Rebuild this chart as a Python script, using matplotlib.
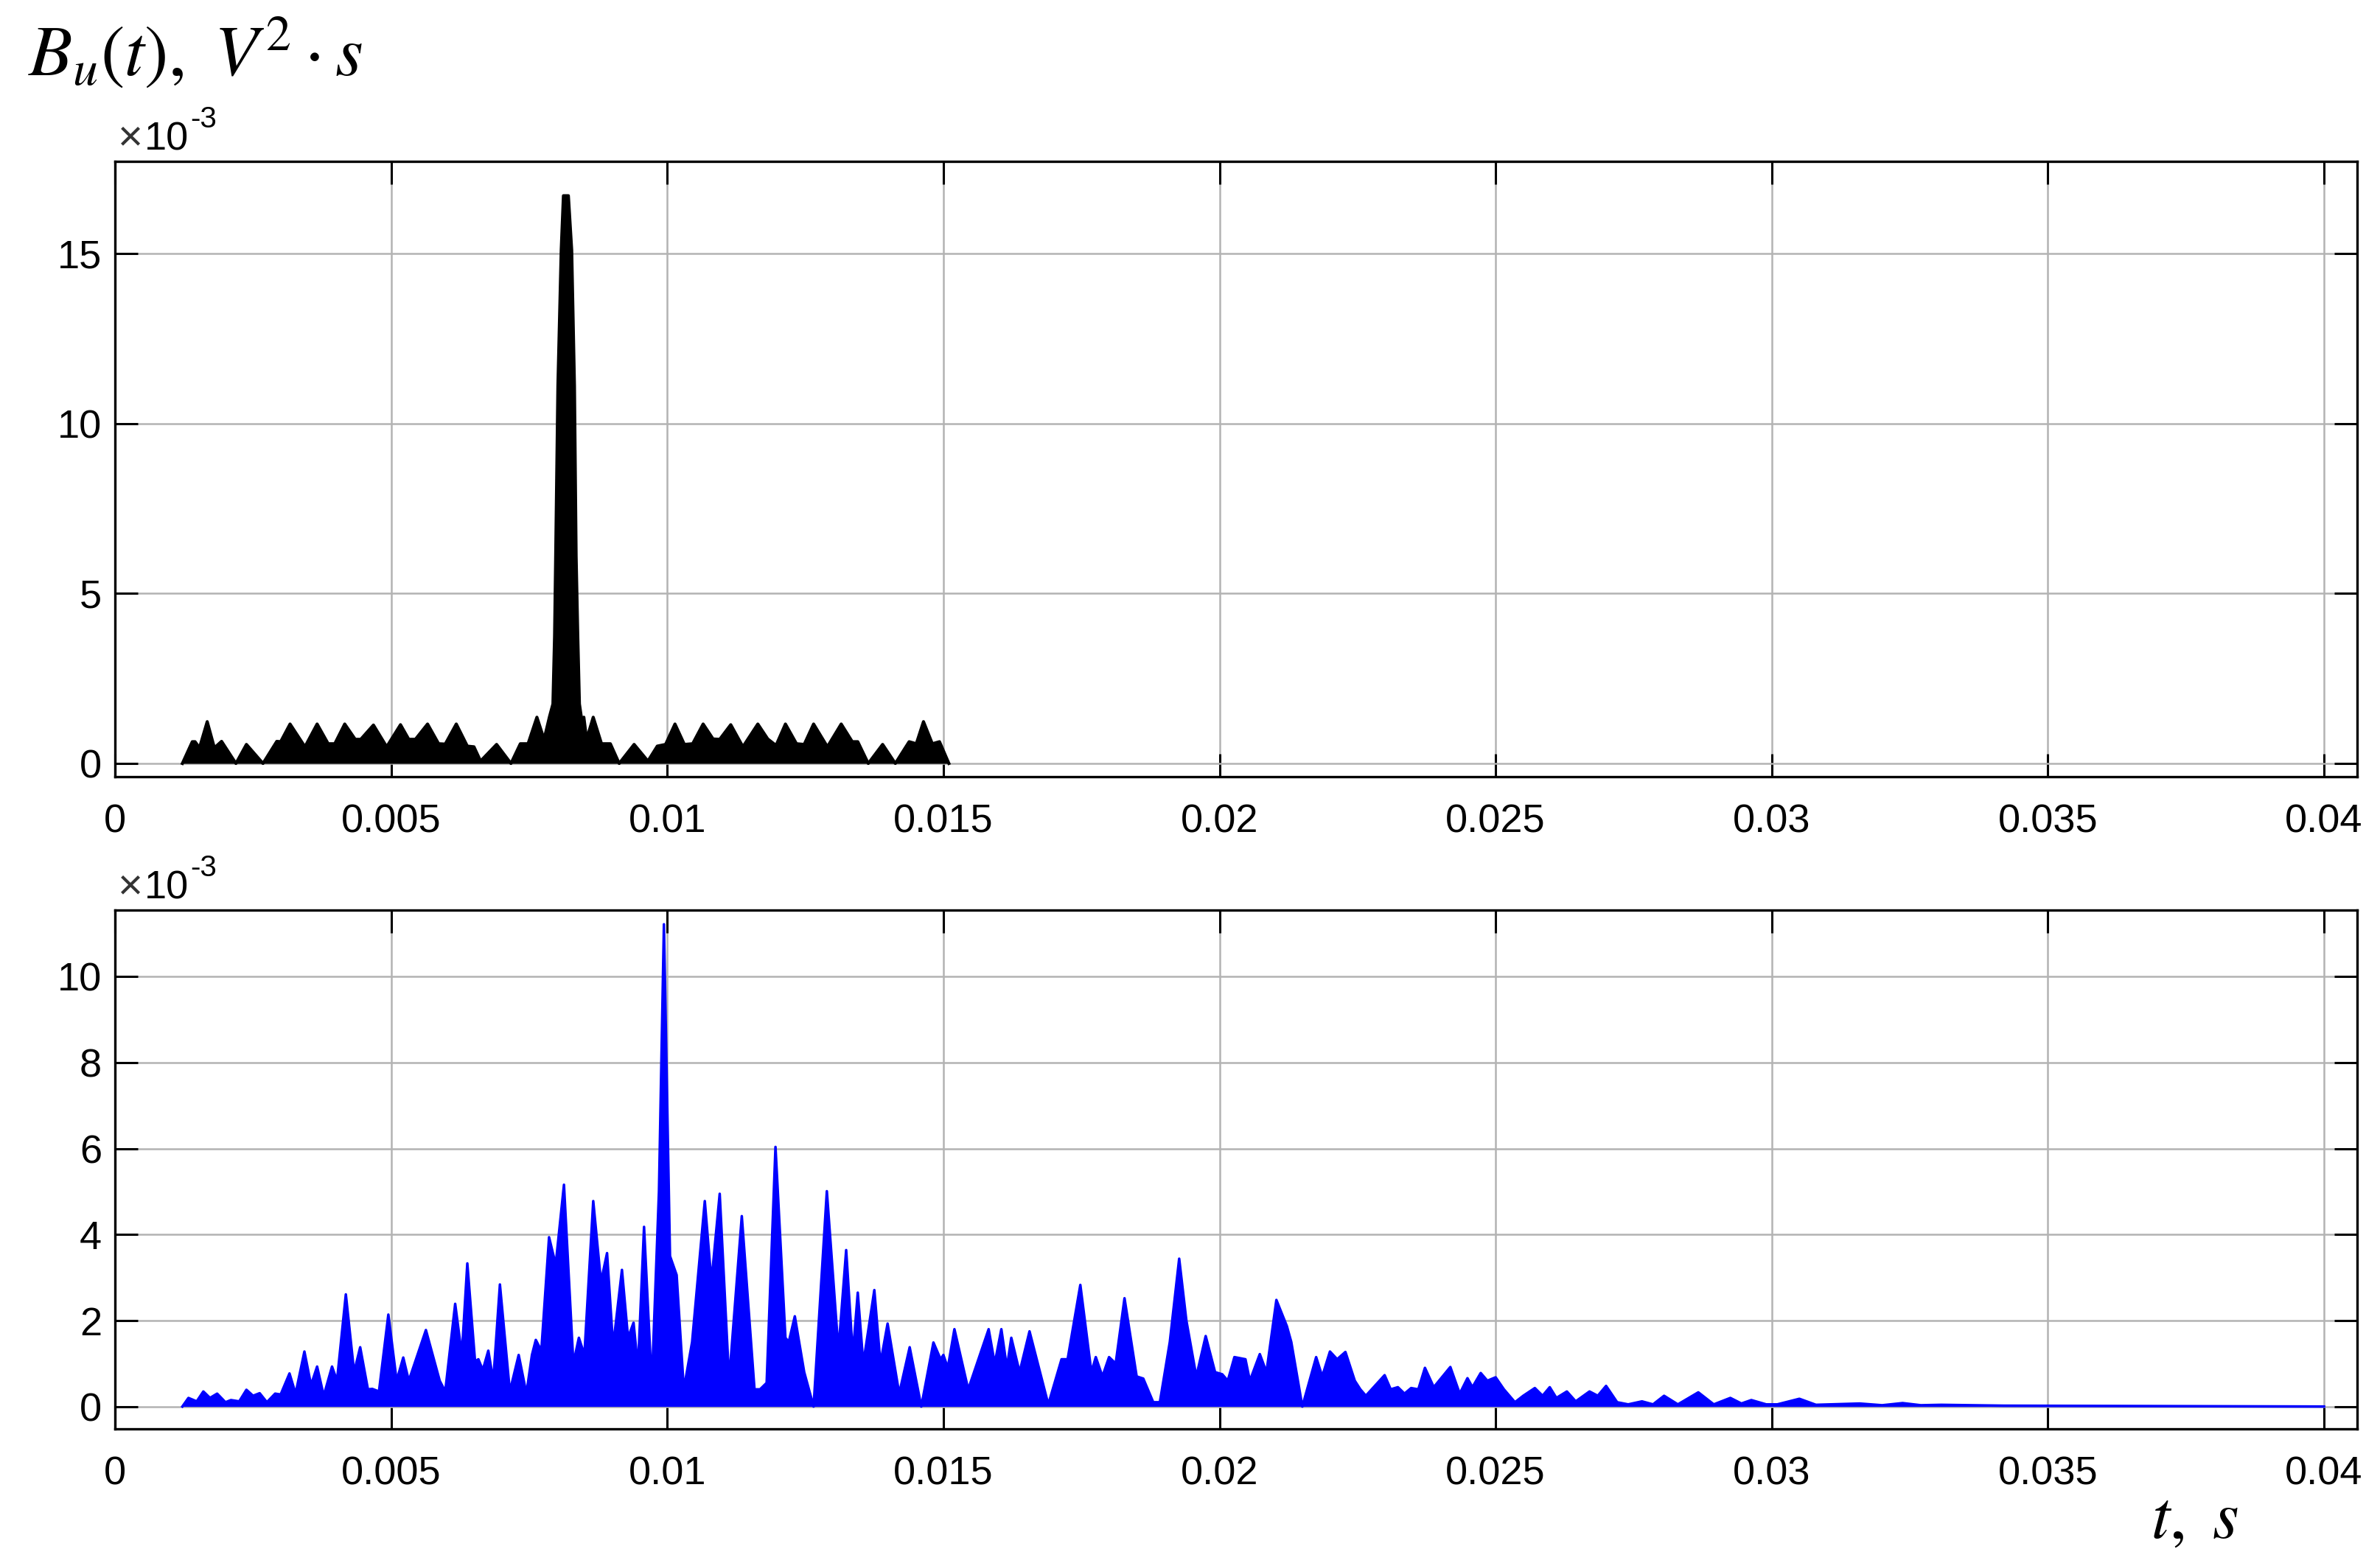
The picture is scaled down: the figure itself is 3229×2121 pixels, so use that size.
import matplotlib.pyplot as plt

# Top trace (black): envelope, t in ms, value in 1e-3 V^2*s
top_t = [1.22, 1.40, 1.45, 1.53, 1.67, 1.80, 1.93, 2.19, 2.38, 2.68, 2.93, 3.00,
         3.17, 3.44, 3.66, 3.86, 3.98, 4.16, 4.35, 4.45, 4.68, 4.92, 5.17, 5.32,
         5.44, 5.66, 5.86, 5.98, 6.18, 6.38, 6.50, 6.62, 6.91, 7.17, 7.34, 7.48,
         7.64, 7.77, 7.87, 7.93, 7.96, 7.98, 8.02, 8.08, 8.12, 8.21, 8.27, 8.32,
         8.35, 8.38, 8.41, 8.45, 8.49, 8.54, 8.66, 8.81, 8.97, 9.13, 9.40, 9.65,
         9.82, 9.97, 10.14, 10.31, 10.46, 10.65, 10.83, 10.95, 11.15, 11.37, 11.64, 11.82,
         11.97, 12.14, 12.34, 12.48, 12.65, 12.90, 13.15, 13.35, 13.45, 13.64, 13.90, 14.13,
         14.38, 14.51, 14.64, 14.80, 14.93, 15.10]
top_v = [0.0, 0.64, 0.64, 0.46, 1.23, 0.46, 0.65, 0.0, 0.56, 0.0, 0.65, 0.64,
         1.16, 0.49, 1.16, 0.58, 0.58, 1.16, 0.71, 0.71, 1.13, 0.49, 1.14, 0.71,
         0.71, 1.16, 0.58, 0.57, 1.16, 0.51, 0.49, 0.07, 0.56, 0.0, 0.58, 0.58,
         1.36, 0.71, 1.39, 1.75, 3.75, 6.1, 11.1, 15.1, 16.7, 16.7, 15.1, 11.1,
         6.1, 3.75, 1.75, 1.30, 1.36, 0.71, 1.36, 0.58, 0.58, 0.0, 0.56, 0.07,
         0.51, 0.56, 1.16, 0.56, 0.58, 1.16, 0.72, 0.71, 1.14, 0.49, 1.16, 0.72,
         0.53, 1.16, 0.58, 0.56, 1.16, 0.49, 1.16, 0.64, 0.64, 0.0, 0.56, 0.0,
         0.64, 0.58, 1.23, 0.58, 0.64, 0.0]

# Bottom trace (blue)
bot_t = [1.22, 1.33, 1.48, 1.60, 1.72, 1.85, 2.00, 2.10, 2.25, 2.38, 2.50, 2.62,
         2.75, 2.90, 3.00, 3.16, 3.27, 3.43, 3.55, 3.66, 3.78, 3.93, 4.02, 4.18,
         4.33, 4.44, 4.58, 4.66, 4.78, 4.95, 5.10, 5.22, 5.32, 5.63, 5.88, 5.98,
         6.16, 6.28, 6.38, 6.52, 6.58, 6.66, 6.76, 6.85, 6.97, 7.15, 7.31, 7.45,
         7.55, 7.62, 7.72, 7.86, 7.98, 8.13, 8.30, 8.40, 8.50, 8.66, 8.80, 8.91,
         9.02, 9.18, 9.29, 9.39, 9.47, 9.58, 9.72, 9.85, 9.94, 10.05, 10.17, 10.30,
         10.45, 10.68, 10.80, 10.95, 11.12, 11.35, 11.58, 11.68, 11.80, 11.96, 12.14, 12.20,
         12.31, 12.48, 12.65, 12.89, 13.10, 13.24, 13.36, 13.45, 13.55, 13.75, 13.86, 13.99,
         14.20, 14.39, 14.60, 14.82, 14.95, 15.00, 15.08, 15.20, 15.45, 15.82, 15.93, 16.05,
         16.15, 16.23, 16.38, 16.56, 16.90, 17.14, 17.25, 17.48, 17.68, 17.76, 17.88, 18.00,
         18.12, 18.28, 18.50, 18.62, 18.80, 18.92, 19.10, 19.27, 19.40, 19.58, 19.75, 19.92,
         20.05, 20.15, 20.27, 20.47, 20.55, 20.73, 20.85, 21.03, 21.22, 21.30, 21.50, 21.75,
         21.86, 22.00, 22.13, 22.28, 22.45, 22.55, 22.65, 22.99, 23.10, 23.23, 23.35, 23.47,
         23.60, 23.72, 23.88, 24.18, 24.35, 24.49, 24.58, 24.73, 24.85, 25.00, 25.15, 25.35,
         25.50, 25.71, 25.85, 25.98, 26.10, 26.29, 26.45, 26.70, 26.85, 27.00, 27.20, 27.40,
         27.65, 27.85, 28.05, 28.30, 28.67, 28.95, 29.25, 29.45, 29.63, 29.90, 30.10, 30.50,
         30.80, 31.59, 32.00, 32.37, 32.70, 33.07, 34.20, 40.00]
bot_v = [0.0, 0.20, 0.12, 0.35, 0.20, 0.30, 0.10, 0.15, 0.12, 0.39, 0.25, 0.31,
         0.10, 0.30, 0.28, 0.77, 0.30, 1.28, 0.50, 0.93, 0.25, 0.93, 0.60, 2.61,
         0.80, 1.38, 0.40, 0.41, 0.35, 2.14, 0.60, 1.14, 0.60, 1.78, 0.60, 0.35,
         2.39, 1.20, 3.33, 1.05, 1.10, 0.85, 1.30, 0.60, 2.84, 0.35, 1.20, 0.30,
         1.20, 1.55, 1.30, 3.94, 3.30, 5.16, 1.00, 1.60, 1.20, 4.78, 2.90, 3.57,
         1.40, 3.18, 1.60, 1.95, 0.90, 4.18, 0.50, 5.00, 11.22, 3.50, 3.06, 0.40,
         1.50, 4.78, 2.90, 4.95, 0.60, 4.43, 0.40, 0.40, 0.55, 6.04, 1.60, 1.50,
         2.10, 0.80, 0.00, 5.01, 1.30, 3.64, 1.20, 2.65, 1.00, 2.71, 1.00, 1.93,
         0.30, 1.38, 0.00, 1.49, 1.10, 1.20, 0.90, 1.80, 0.40, 1.80, 1.00, 1.80,
         0.90, 1.60, 0.80, 1.75, 0.05, 1.10, 1.10, 2.83, 0.80, 1.15, 0.70, 1.15,
         1.00, 2.52, 0.70, 0.65, 0.10, 0.10, 1.50, 3.44, 2.00, 0.70, 1.64, 0.80,
         0.75, 0.60, 1.15, 1.10, 0.60, 1.22, 0.80, 2.48, 1.87, 1.50, 0.00, 1.15,
         0.70, 1.28, 1.10, 1.27, 0.60, 0.40, 0.25, 0.73, 0.40, 0.45, 0.30, 0.43,
         0.40, 0.90, 0.45, 0.92, 0.30, 0.66, 0.45, 0.78, 0.60, 0.68, 0.40, 0.10,
         0.25, 0.43, 0.25, 0.45, 0.20, 0.35, 0.12, 0.35, 0.25, 0.48, 0.10, 0.05,
         0.12, 0.05, 0.25, 0.05, 0.33, 0.05, 0.20, 0.07, 0.15, 0.05, 0.05, 0.18,
         0.04, 0.07, 0.03, 0.08, 0.03, 0.04, 0.02, 0.0]

x_ticks = [0, 0.005, 0.01, 0.015, 0.02, 0.025, 0.03, 0.035, 0.04]
x_labels = ["0", "0.005", "0.01", "0.015", "0.02", "0.025", "0.03", "0.035", "0.04"]
top_yticks = [0, 5, 10, 15]
bot_yticks = [0, 2, 4, 6, 8, 10]

W, H = 3229, 2121
TICK_FONT = 39

plt.rcParams["font.family"] = ["Liberation Sans", "DejaVu Sans"]


def style_axes(ax, yticks, ylim):
    ax.set_xlim(0, 0.0406)
    ax.set_ylim(*ylim)
    ax.set_xticks(x_ticks)
    ax.set_xticklabels(x_labels)
    ax.set_yticks(yticks)
    ax.set_yticklabels([str(v) for v in yticks])
    ax.tick_params(direction="in", top=True, right=True, length=22, width=2.2,
                   labelsize=TICK_FONT, colors="black")
    ax.tick_params(axis="x", pad=26)
    ax.tick_params(axis="y", pad=13)
    ax.grid(True, color="#b3b3b3", linewidth=1.8)
    ax.set_axisbelow(True)
    for sp in ax.spines.values():
        sp.set_linewidth(2.4)
    # MATLAB-style exponent marker
    ax.annotate("×", xy=(0, 1), xycoords="axes fraction", xytext=(4, 16),
                textcoords="offset pixels", fontsize=42, va="baseline", ha="left",
                color="#333333")
    ax.annotate("10", xy=(0, 1), xycoords="axes fraction", xytext=(40, 16),
                textcoords="offset pixels", fontsize=TICK_FONT, va="baseline", ha="left")
    ax.annotate("-3", xy=(0, 1), xycoords="axes fraction", xytext=(102, 46),
                textcoords="offset pixels", fontsize=29, va="baseline", ha="left")


def main():
    fig = plt.figure(figsize=(W / 100, H / 100), dpi=100)
    ax1 = fig.add_axes([156 / W, 1 - 1054 / H, (3198 - 156) / W, (1054 - 219) / H])
    ax2 = fig.add_axes([156 / W, 1 - 1939 / H, (3198 - 156) / W, (1939 - 1235) / H])

    t1 = [t / 1000 for t in top_t]
    t2 = [t / 1000 for t in bot_t]

    ax1.fill_between(t1, 0, top_v, color="black", linewidth=0)
    ax1.plot(t1, top_v, color="black", linewidth=3.0, solid_joinstyle="round")
    style_axes(ax1, top_yticks, (-0.39, 17.71))

    ax2.fill_between(t2, 0, bot_v, color="#0000ff", linewidth=0)
    ax2.plot(t2, bot_v, color="#0000ff", linewidth=2.5, solid_joinstyle="round")
    style_axes(ax2, bot_yticks, (-0.52, 11.55))

    fig.text(38 / W, 1 - 103 / H, r"$B_u(t),\ V^2\cdot s$", fontsize=70,
             math_fontfamily="stix", va="baseline", ha="left")
    fig.text(2918 / W, 1 - 2087 / H, r"$t,\ s$", fontsize=66,
             math_fontfamily="stix", va="baseline", ha="left")

    fig.savefig("out.png", dpi=100, facecolor="white")


if __name__ == "__main__":
    main()
